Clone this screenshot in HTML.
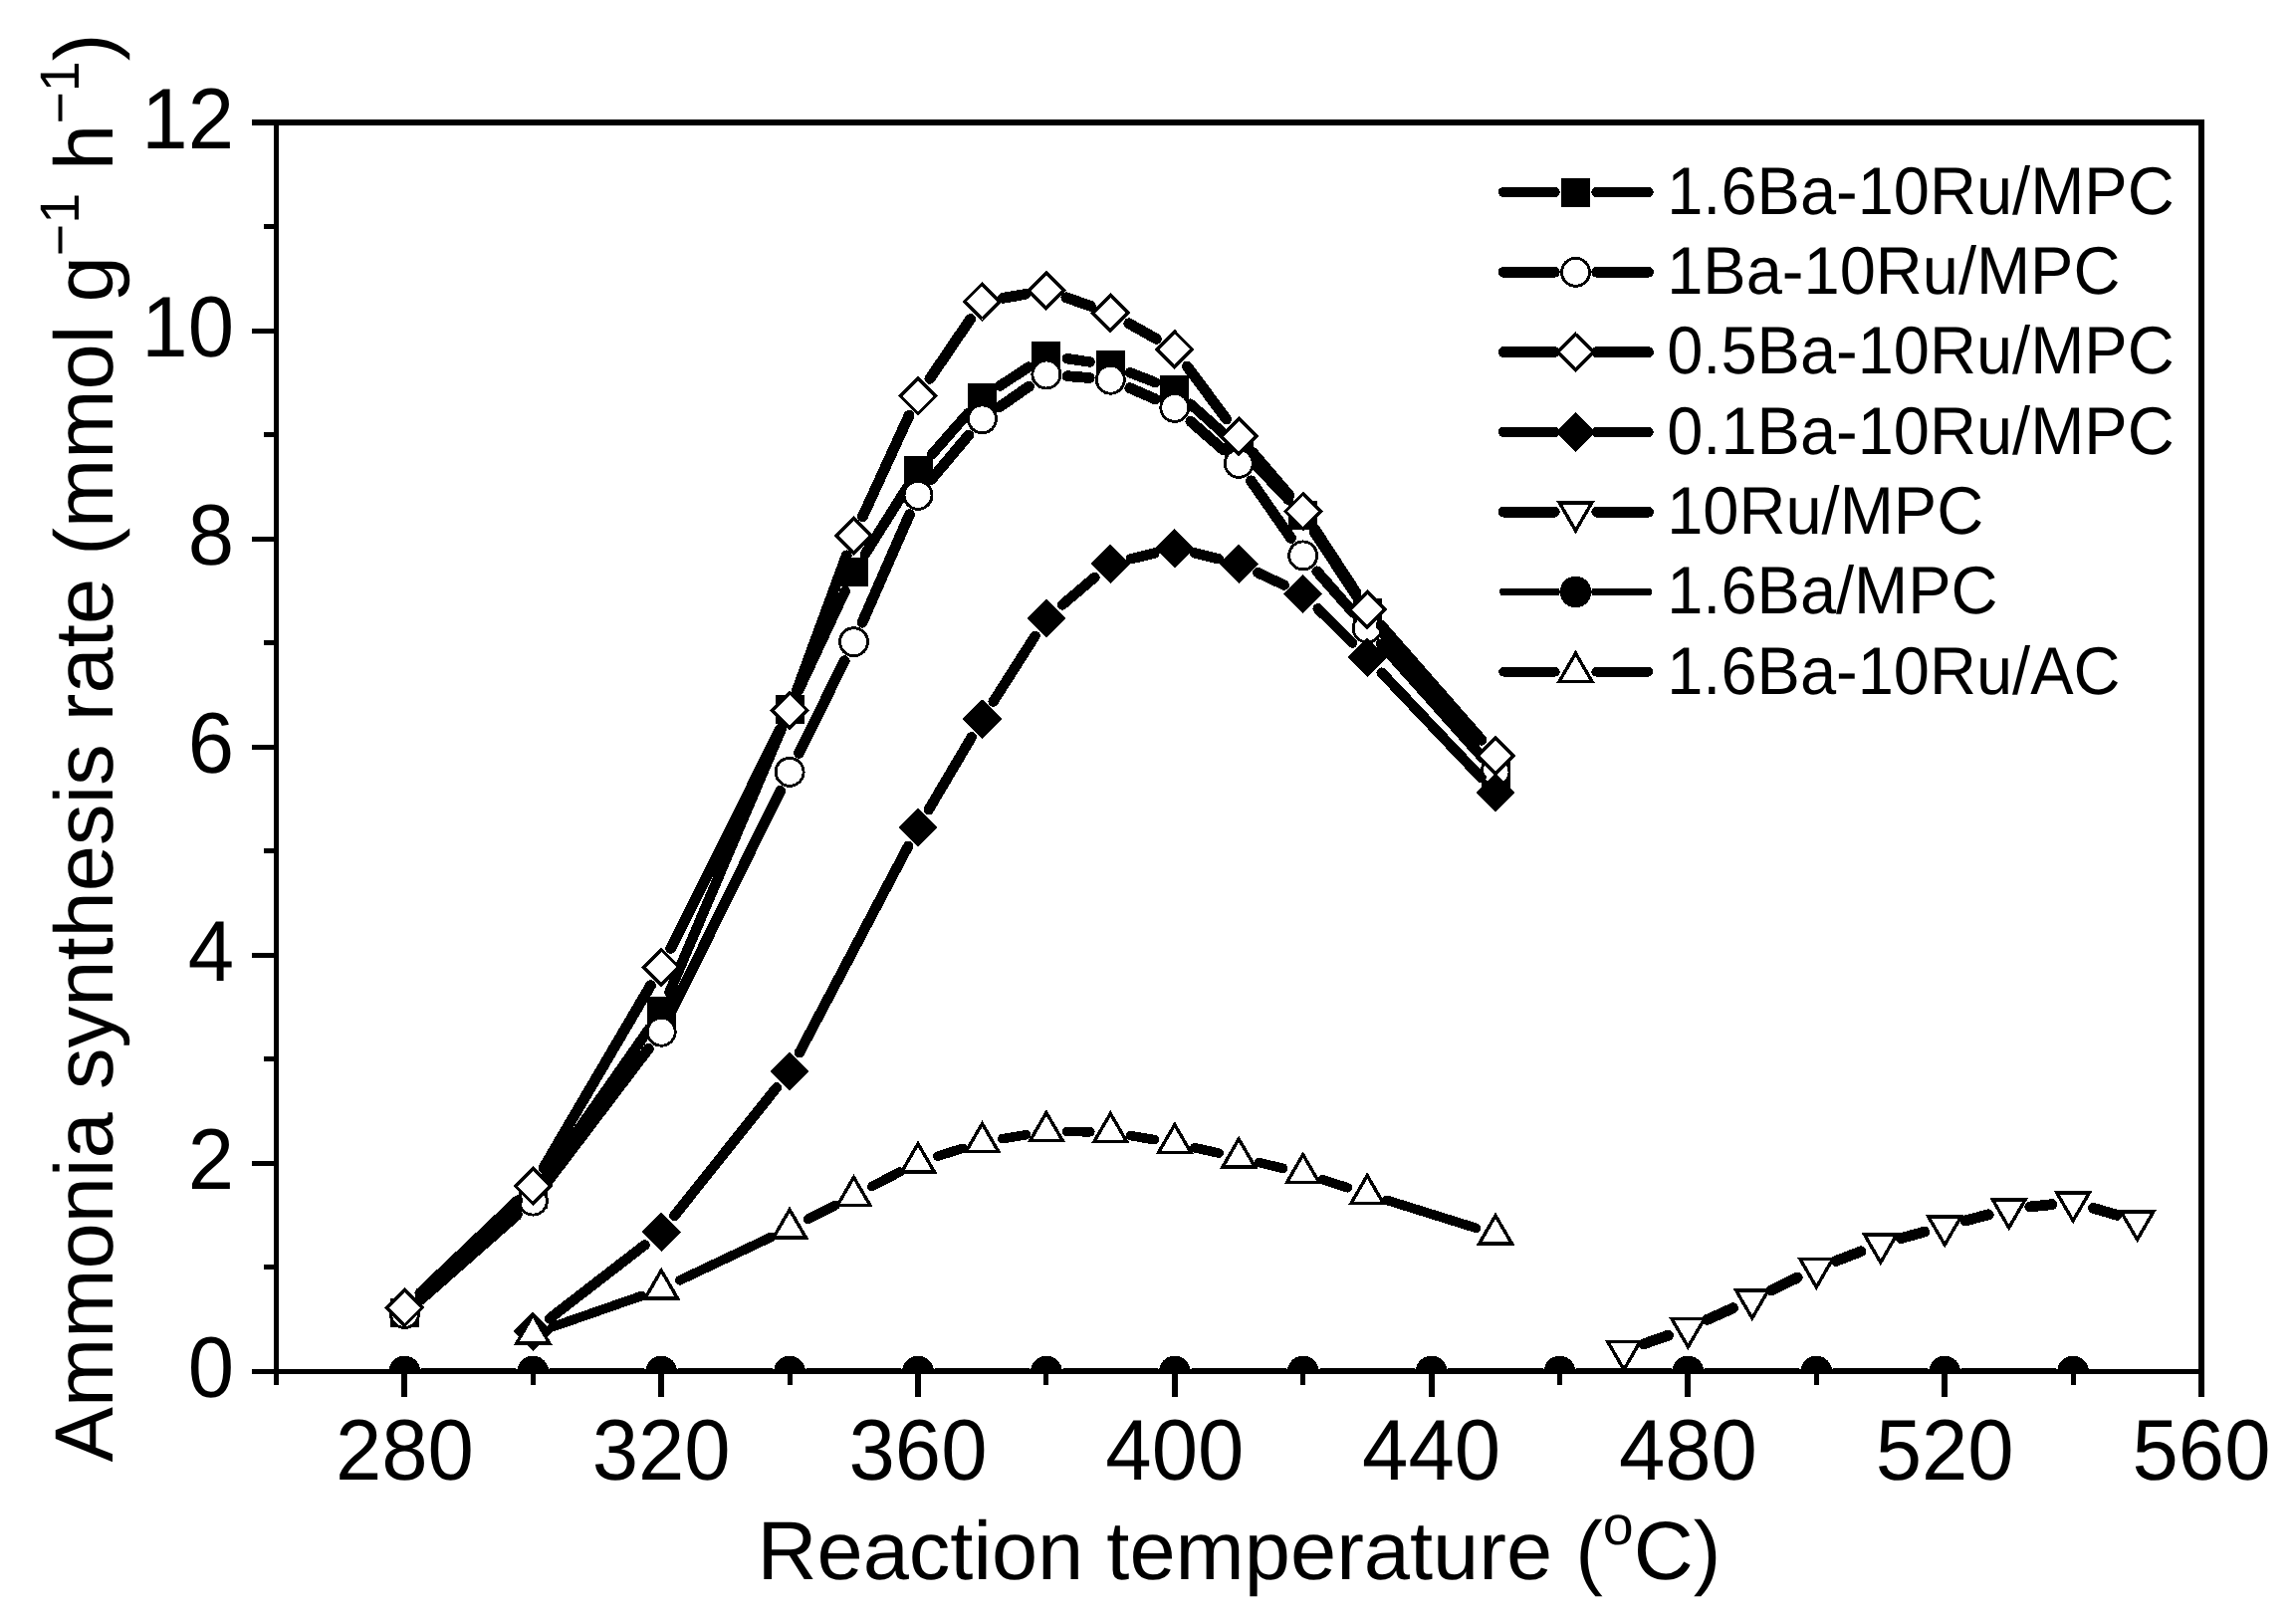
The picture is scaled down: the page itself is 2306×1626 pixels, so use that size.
<!DOCTYPE html>
<html><head><meta charset="utf-8"><title>Ammonia synthesis rate</title>
<style>
html,body{margin:0;padding:0;background:#fff;}
svg{display:block;}
text{font-family:"Liberation Sans",sans-serif;fill:#000;}
</style></head><body>
<svg width="2306" height="1626" viewBox="0 0 2306 1626" shape-rendering="crispEdges" text-rendering="geometricPrecision">
<rect width="2306" height="1626" fill="#fff"/>
<defs><clipPath id="plot"><rect x="277.5" y="123.0" width="1933.5" height="1254.5"/></clipPath></defs>
<g clip-path="url(#plot)">
<path d="M421.9 1304.2L519.8 1214.0M547.3 1182.6L652.2 1033.0M672.4 996.5L784.9 731.9M802.0 693.6L848.7 593.6M868.7 556.8L910.8 489.9M935.9 456.4L972.6 414.7M1004.1 387.6L1033.3 368.6M1071.7 360.2L1094.6 363.5M1134.9 374.2L1160.2 384.1M1195.5 405.7L1228.6 435.2M1258.7 464.4L1294.2 501.9M1320.2 534.7L1361.6 597.8M1386.2 631.8L1489.0 761.0" fill="none" stroke="#000" stroke-width="10.4" stroke-linecap="round"/>
<rect x="391.9" y="1303.9" width="29.0" height="29.0" fill="#000"/>
<rect x="520.8" y="1185.3" width="29.0" height="29.0" fill="#000"/>
<rect x="649.7" y="1001.3" width="29.0" height="29.0" fill="#000"/>
<rect x="778.6" y="698.1" width="29.0" height="29.0" fill="#000"/>
<rect x="843.0" y="560.1" width="29.0" height="29.0" fill="#000"/>
<rect x="907.5" y="457.7" width="29.0" height="29.0" fill="#000"/>
<rect x="972.0" y="384.5" width="29.0" height="29.0" fill="#000"/>
<rect x="1036.4" y="342.7" width="29.0" height="29.0" fill="#000"/>
<rect x="1100.8" y="352.1" width="29.0" height="29.0" fill="#000"/>
<rect x="1165.3" y="377.2" width="29.0" height="29.0" fill="#000"/>
<rect x="1229.8" y="434.7" width="29.0" height="29.0" fill="#000"/>
<rect x="1294.2" y="502.6" width="29.0" height="29.0" fill="#000"/>
<rect x="1358.7" y="600.9" width="29.0" height="29.0" fill="#000"/>
<rect x="1487.5" y="762.9" width="29.0" height="29.0" fill="#000"/>
<path d="M422.3 1305.5L519.4 1220.1M548.1 1189.2L651.4 1053.1M673.6 1017.2L783.7 794.3M802.5 756.3L848.2 663.7M866.0 625.2L913.5 516.7M935.7 481.1L972.8 437.1M1003.8 408.8L1033.5 388.1M1072.0 377.7L1094.2 379.5M1134.8 389.7L1160.4 400.9M1195.8 423.3L1228.2 451.5M1256.4 482.8L1296.6 540.5M1322.7 573.8L1359.1 615.2M1387.3 646.9L1487.9 759.5" fill="none" stroke="#000" stroke-width="10.8" stroke-linecap="round"/>
<circle cx="406.4" cy="1319.5" r="14.0" fill="#fff" stroke="#000" stroke-width="2.9"/>
<circle cx="535.3" cy="1206.1" r="14.0" fill="#fff" stroke="#000" stroke-width="2.9"/>
<circle cx="664.2" cy="1036.2" r="14.0" fill="#fff" stroke="#000" stroke-width="2.9"/>
<circle cx="793.1" cy="775.3" r="14.0" fill="#fff" stroke="#000" stroke-width="2.9"/>
<circle cx="857.5" cy="644.7" r="14.0" fill="#fff" stroke="#000" stroke-width="2.9"/>
<circle cx="922.0" cy="497.3" r="14.0" fill="#fff" stroke="#000" stroke-width="2.9"/>
<circle cx="986.5" cy="420.9" r="14.0" fill="#fff" stroke="#000" stroke-width="2.9"/>
<circle cx="1050.9" cy="376.0" r="14.0" fill="#fff" stroke="#000" stroke-width="2.9"/>
<circle cx="1115.3" cy="381.2" r="14.0" fill="#fff" stroke="#000" stroke-width="2.9"/>
<circle cx="1179.8" cy="409.4" r="14.0" fill="#fff" stroke="#000" stroke-width="2.9"/>
<circle cx="1244.2" cy="465.4" r="14.0" fill="#fff" stroke="#000" stroke-width="2.9"/>
<circle cx="1308.7" cy="557.9" r="14.0" fill="#fff" stroke="#000" stroke-width="2.9"/>
<circle cx="1373.2" cy="631.1" r="14.0" fill="#fff" stroke="#000" stroke-width="2.9"/>
<circle cx="1502.0" cy="775.3" r="14.0" fill="#fff" stroke="#000" stroke-width="2.9"/>
<path d="M421.8 1298.8L519.9 1205.7M546.0 1172.8L653.5 989.6M673.7 952.4L783.6 732.3M800.4 693.4L850.2 557.9M866.4 518.8L913.1 417.2M933.9 380.4L974.6 320.4M1007.3 299.3L1030.0 295.4M1070.9 298.8L1095.3 307.3M1133.8 324.8L1161.4 340.4M1192.4 368.0L1231.7 421.1M1258.0 454.3L1294.9 497.4M1320.3 531.2L1361.6 594.5M1387.1 628.2L1488.1 743.2" fill="none" stroke="#000" stroke-width="10.8" stroke-linecap="round"/>
<path d="M406.4 1295.7L424.1 1313.4L406.4 1331.1L388.7 1313.4Z" fill="#fff" stroke="#000" stroke-width="3.4"/>
<path d="M535.3 1173.4L553.0 1191.1L535.3 1208.8L517.6 1191.1Z" fill="#fff" stroke="#000" stroke-width="3.4"/>
<path d="M664.2 953.7L681.9 971.4L664.2 989.1L646.5 971.4Z" fill="#fff" stroke="#000" stroke-width="3.4"/>
<path d="M793.1 695.6L810.8 713.3L793.1 731.0L775.4 713.3Z" fill="#fff" stroke="#000" stroke-width="3.4"/>
<path d="M857.5 520.3L875.2 538.0L857.5 555.7L839.8 538.0Z" fill="#fff" stroke="#000" stroke-width="3.4"/>
<path d="M922.0 380.2L939.7 397.9L922.0 415.6L904.3 397.9Z" fill="#fff" stroke="#000" stroke-width="3.4"/>
<path d="M986.5 285.1L1004.2 302.8L986.5 320.5L968.8 302.8Z" fill="#fff" stroke="#000" stroke-width="3.4"/>
<path d="M1050.9 274.1L1068.6 291.8L1050.9 309.5L1033.2 291.8Z" fill="#fff" stroke="#000" stroke-width="3.4"/>
<path d="M1115.3 296.6L1133.0 314.3L1115.3 332.0L1097.6 314.3Z" fill="#fff" stroke="#000" stroke-width="3.4"/>
<path d="M1179.8 333.2L1197.5 350.9L1179.8 368.6L1162.1 350.9Z" fill="#fff" stroke="#000" stroke-width="3.4"/>
<path d="M1244.2 420.5L1262.0 438.2L1244.2 455.9L1226.5 438.2Z" fill="#fff" stroke="#000" stroke-width="3.4"/>
<path d="M1308.7 495.8L1326.4 513.5L1308.7 531.2L1291.0 513.5Z" fill="#fff" stroke="#000" stroke-width="3.4"/>
<path d="M1373.2 594.6L1390.9 612.3L1373.2 630.0L1355.5 612.3Z" fill="#fff" stroke="#000" stroke-width="3.4"/>
<path d="M1502.0 741.4L1519.8 759.1L1502.0 776.8L1484.3 759.1Z" fill="#fff" stroke="#000" stroke-width="3.4"/>
<path d="M551.9 1324.4L647.6 1250.3M677.3 1221.0L780.0 1092.3M802.9 1057.3L912.2 849.8M932.7 813.2L975.8 740.3M997.7 704.5L1039.6 638.8M1066.9 607.5L1099.4 579.9M1135.8 561.3L1159.4 555.5M1200.2 555.5L1223.8 561.3M1263.3 575.2L1289.7 587.6M1323.6 611.3L1358.2 645.6M1387.6 675.6L1487.6 780.9" fill="none" stroke="#000" stroke-width="10.4" stroke-linecap="round"/>
<path d="M535.3 1317.6L555.0 1337.3L535.3 1357.0L515.6 1337.3Z" fill="#000"/>
<path d="M664.2 1217.7L683.9 1237.4L664.2 1257.1L644.5 1237.4Z" fill="#000"/>
<path d="M793.1 1056.2L812.8 1075.9L793.1 1095.6L773.4 1075.9Z" fill="#000"/>
<path d="M922.0 811.6L941.7 831.3L922.0 851.0L902.3 831.3Z" fill="#000"/>
<path d="M986.5 702.5L1006.2 722.2L986.5 741.9L966.8 722.2Z" fill="#000"/>
<path d="M1050.9 601.4L1070.6 621.1L1050.9 640.8L1031.2 621.1Z" fill="#000"/>
<path d="M1115.3 546.6L1135.0 566.3L1115.3 586.0L1095.6 566.3Z" fill="#000"/>
<path d="M1179.8 530.9L1199.5 550.6L1179.8 570.3L1160.1 550.6Z" fill="#000"/>
<path d="M1244.2 546.6L1264.0 566.3L1244.2 586.0L1224.5 566.3Z" fill="#000"/>
<path d="M1308.7 576.9L1328.4 596.6L1308.7 616.3L1289.0 596.6Z" fill="#000"/>
<path d="M1373.2 640.6L1392.9 660.3L1373.2 680.0L1353.5 660.3Z" fill="#000"/>
<path d="M1502.0 776.4L1521.8 796.1L1502.0 815.8L1482.3 796.1Z" fill="#000"/>
<path d="M1650.9 1349.8L1675.4 1341.2M1714.7 1325.4L1740.5 1313.8M1778.9 1295.9L1805.2 1283.2M1844.1 1266.4L1869.0 1256.8M1909.2 1243.6L1932.8 1237.1M1973.7 1226.0L1997.2 1219.8M2038.7 1212.0L2061.0 1209.6M2102.4 1213.3L2126.2 1220.3" fill="none" stroke="#000" stroke-width="10.8" stroke-linecap="round"/>
<path d="M1631.0 1375.6L1647.2 1347.5L1614.7 1347.5Z" fill="#fff" stroke="#000" stroke-width="3.4"/>
<path d="M1695.4 1352.8L1711.7 1324.7L1679.1 1324.7Z" fill="#fff" stroke="#000" stroke-width="3.4"/>
<path d="M1759.8 1323.9L1776.1 1295.8L1743.5 1295.8Z" fill="#fff" stroke="#000" stroke-width="3.4"/>
<path d="M1824.3 1292.7L1840.6 1264.6L1808.0 1264.6Z" fill="#fff" stroke="#000" stroke-width="3.4"/>
<path d="M1888.8 1267.9L1905.0 1239.8L1872.5 1239.8Z" fill="#fff" stroke="#000" stroke-width="3.4"/>
<path d="M1953.2 1250.2L1969.5 1222.1L1936.9 1222.1Z" fill="#fff" stroke="#000" stroke-width="3.4"/>
<path d="M2017.7 1233.0L2034.0 1204.9L2001.4 1204.9Z" fill="#fff" stroke="#000" stroke-width="3.4"/>
<path d="M2082.1 1226.0L2098.4 1197.9L2065.8 1197.9Z" fill="#fff" stroke="#000" stroke-width="3.4"/>
<path d="M2146.6 1244.9L2162.9 1216.8L2130.2 1216.8Z" fill="#fff" stroke="#000" stroke-width="3.4"/>
<path d="M426.1 1377.5L515.6 1377.5M555.0 1377.5L644.5 1377.5M683.9 1377.5L773.4 1377.5M812.8 1377.5L902.3 1377.5M941.7 1377.5L1031.2 1377.5M1070.6 1377.5L1160.1 1377.5M1199.5 1377.5L1289.0 1377.5M1328.4 1377.5L1417.9 1377.5M1457.3 1377.5L1546.8 1377.5M1586.2 1377.5L1675.7 1377.5M1715.1 1377.5L1804.6 1377.5M1844.0 1377.5L1933.5 1377.5M1972.9 1377.5L2062.4 1377.5" fill="none" stroke="#000" stroke-width="7.8" stroke-linecap="round"/>
<circle cx="406.4" cy="1377.5" r="15.8" fill="#000"/>
<circle cx="535.3" cy="1377.5" r="15.8" fill="#000"/>
<circle cx="664.2" cy="1377.5" r="15.8" fill="#000"/>
<circle cx="793.1" cy="1377.5" r="15.8" fill="#000"/>
<circle cx="922.0" cy="1377.5" r="15.8" fill="#000"/>
<circle cx="1050.9" cy="1377.5" r="15.8" fill="#000"/>
<circle cx="1179.8" cy="1377.5" r="15.8" fill="#000"/>
<circle cx="1308.7" cy="1377.5" r="15.8" fill="#000"/>
<circle cx="1437.6" cy="1377.5" r="15.8" fill="#000"/>
<circle cx="1566.5" cy="1377.5" r="15.8" fill="#000"/>
<circle cx="1695.4" cy="1377.5" r="15.8" fill="#000"/>
<circle cx="1824.3" cy="1377.5" r="15.8" fill="#000"/>
<circle cx="1953.2" cy="1377.5" r="15.8" fill="#000"/>
<circle cx="2082.1" cy="1377.5" r="15.8" fill="#000"/>
<path d="M554.8 1332.7L644.7 1301.4M682.8 1285.8L774.5 1242.4M811.5 1224.3L839.2 1210.3M875.8 1191.5L903.7 1176.9M941.7 1161.2L966.8 1153.3M1006.8 1143.7L1030.6 1139.7M1071.5 1136.5L1094.8 1136.8M1135.6 1140.6L1159.5 1144.7M1199.9 1152.7L1224.1 1158.1M1264.3 1167.5L1288.7 1173.4M1328.3 1184.7L1353.5 1192.8M1392.8 1205.3L1482.4 1233.3" fill="none" stroke="#000" stroke-width="9.6" stroke-linecap="round"/>
<path d="M535.3 1320.7L551.6 1348.8L519.0 1348.8Z" fill="#fff" stroke="#000" stroke-width="3.4"/>
<path d="M664.2 1275.9L680.5 1304.0L647.9 1304.0Z" fill="#fff" stroke="#000" stroke-width="3.4"/>
<path d="M793.1 1214.8L809.4 1242.9L776.8 1242.9Z" fill="#fff" stroke="#000" stroke-width="3.4"/>
<path d="M857.5 1182.3L873.8 1210.4L841.2 1210.4Z" fill="#fff" stroke="#000" stroke-width="3.4"/>
<path d="M922.0 1148.7L938.3 1176.8L905.7 1176.8Z" fill="#fff" stroke="#000" stroke-width="3.4"/>
<path d="M986.5 1128.5L1002.8 1156.6L970.2 1156.6Z" fill="#fff" stroke="#000" stroke-width="3.4"/>
<path d="M1050.9 1117.5L1067.2 1145.6L1034.6 1145.6Z" fill="#fff" stroke="#000" stroke-width="3.4"/>
<path d="M1115.3 1118.4L1131.6 1146.5L1099.0 1146.5Z" fill="#fff" stroke="#000" stroke-width="3.4"/>
<path d="M1179.8 1129.5L1196.1 1157.6L1163.5 1157.6Z" fill="#fff" stroke="#000" stroke-width="3.4"/>
<path d="M1244.2 1143.9L1260.5 1172.0L1228.0 1172.0Z" fill="#fff" stroke="#000" stroke-width="3.4"/>
<path d="M1308.7 1159.6L1325.0 1187.7L1292.4 1187.7Z" fill="#fff" stroke="#000" stroke-width="3.4"/>
<path d="M1373.2 1180.5L1389.5 1208.6L1356.9 1208.6Z" fill="#fff" stroke="#000" stroke-width="3.4"/>
<path d="M1502.0 1220.7L1518.3 1248.8L1485.8 1248.8Z" fill="#fff" stroke="#000" stroke-width="3.4"/>
</g>
<g fill="#000"><rect x="253" y="120" width="1961" height="6"/>
<rect x="253" y="1375" width="1961" height="5"/>
<rect x="275" y="120" width="5" height="1271"/>
<rect x="2208" y="120" width="6" height="1283"/>
<rect x="265" y="1270" width="12" height="5"/>
<rect x="253" y="1166" width="24" height="5"/>
<rect x="265" y="1061" width="12" height="5"/>
<rect x="253" y="957" width="24" height="5"/>
<rect x="265" y="852" width="12" height="5"/>
<rect x="253" y="748" width="24" height="5"/>
<rect x="265" y="643" width="12" height="5"/>
<rect x="253" y="539" width="24" height="5"/>
<rect x="265" y="434" width="12" height="5"/>
<rect x="253" y="330" width="24" height="5"/>
<rect x="265" y="225" width="12" height="5"/>
<rect x="403" y="1378" width="6" height="25"/>
<rect x="533" y="1378" width="5" height="13"/>
<rect x="661" y="1378" width="6" height="25"/>
<rect x="791" y="1378" width="5" height="13"/>
<rect x="919" y="1378" width="6" height="25"/>
<rect x="1048" y="1378" width="5" height="13"/>
<rect x="1177" y="1378" width="6" height="25"/>
<rect x="1306" y="1378" width="5" height="13"/>
<rect x="1435" y="1378" width="6" height="25"/>
<rect x="1564" y="1378" width="5" height="13"/>
<rect x="1692" y="1378" width="6" height="25"/>
<rect x="1822" y="1378" width="5" height="13"/>
<rect x="1950" y="1378" width="6" height="25"/>
<rect x="2080" y="1378" width="5" height="13"/></g>
<text transform="translate(406.4 1485.5) scale(1 1.04)" font-size="83.3" text-anchor="middle">280</text>
<text transform="translate(664.2 1485.5) scale(1 1.04)" font-size="83.3" text-anchor="middle">320</text>
<text transform="translate(922.0 1485.5) scale(1 1.04)" font-size="83.3" text-anchor="middle">360</text>
<text transform="translate(1179.8 1485.5) scale(1 1.04)" font-size="83.3" text-anchor="middle">400</text>
<text transform="translate(1437.6 1485.5) scale(1 1.04)" font-size="83.3" text-anchor="middle">440</text>
<text transform="translate(1695.4 1485.5) scale(1 1.04)" font-size="83.3" text-anchor="middle">480</text>
<text transform="translate(1953.2 1485.5) scale(1 1.04)" font-size="83.3" text-anchor="middle">520</text>
<text transform="translate(2211.0 1485.5) scale(1 1.04)" font-size="83.3" text-anchor="middle">560</text>
<text transform="translate(235 1403.3) scale(1 1.04)" font-size="83.3" text-anchor="end">0</text>
<text transform="translate(235 1194.2) scale(1 1.04)" font-size="83.3" text-anchor="end">2</text>
<text transform="translate(235 985.1) scale(1 1.04)" font-size="83.3" text-anchor="end">4</text>
<text transform="translate(235 776.0) scale(1 1.04)" font-size="83.3" text-anchor="end">6</text>
<text transform="translate(235 567.0) scale(1 1.04)" font-size="83.3" text-anchor="end">8</text>
<text transform="translate(235 357.9) scale(1 1.04)" font-size="83.3" text-anchor="end">10</text>
<text transform="translate(235 148.8) scale(1 1.04)" font-size="83.3" text-anchor="end">12</text>
<text x="760.5" y="1585.8" font-size="83.05">Reaction temperature (<tspan font-size="55.5" dy="-35">o</tspan><tspan dy="35">C)</tspan></text>
<text transform="translate(113 1468.5) rotate(-90)" font-size="83.2">Ammonia synthesis rate (mmol g<tspan font-size="55.5" dy="-34">−1</tspan><tspan dy="34"> h</tspan><tspan font-size="55.5" dy="-34">−1</tspan><tspan dy="34">)</tspan></text>
<path d="M1510 193.0L1561.5 193.0M1603.5 193.0L1655.5 193.0" stroke="#000" stroke-width="10.4" stroke-linecap="round" fill="none"/>
<rect x="1568.0" y="178.5" width="29.0" height="29.0" fill="#000"/>
<text transform="translate(1674.2 214.8) scale(1 1.04)" font-size="65">1.6Ba-10Ru/MPC</text>
<path d="M1510 273.3L1561.3 273.3M1603.7 273.3L1655.5 273.3" stroke="#000" stroke-width="10.8" stroke-linecap="round" fill="none"/>
<circle cx="1582.5" cy="273.3" r="14.0" fill="#fff" stroke="#000" stroke-width="2.9"/>
<text transform="translate(1674.2 295.1) scale(1 1.04)" font-size="65">1Ba-10Ru/MPC</text>
<path d="M1510 353.6L1561.3 353.6M1603.7 353.6L1655.5 353.6" stroke="#000" stroke-width="10.8" stroke-linecap="round" fill="none"/>
<path d="M1582.5 335.9L1600.2 353.6L1582.5 371.3L1564.8 353.6Z" fill="#fff" stroke="#000" stroke-width="3.4"/>
<text transform="translate(1674.2 375.4) scale(1 1.04)" font-size="65">0.5Ba-10Ru/MPC</text>
<path d="M1510 433.9L1561.5 433.9M1603.5 433.9L1655.5 433.9" stroke="#000" stroke-width="10.4" stroke-linecap="round" fill="none"/>
<path d="M1582.5 414.2L1602.2 433.9L1582.5 453.6L1562.8 433.9Z" fill="#000"/>
<text transform="translate(1674.2 455.7) scale(1 1.04)" font-size="65">0.1Ba-10Ru/MPC</text>
<path d="M1510 514.2L1561.3 514.2M1603.7 514.2L1655.5 514.2" stroke="#000" stroke-width="10.8" stroke-linecap="round" fill="none"/>
<path d="M1582.5 532.9L1598.8 504.8L1566.2 504.8Z" fill="#fff" stroke="#000" stroke-width="3.4"/>
<text transform="translate(1674.2 536.0) scale(1 1.04)" font-size="65">10Ru/MPC</text>
<path d="M1510 594.5L1562.8 594.5M1602.2 594.5L1655.5 594.5" stroke="#000" stroke-width="7.8" stroke-linecap="round" fill="none"/>
<circle cx="1582.5" cy="594.5" r="15.8" fill="#000"/>
<text transform="translate(1674.2 616.3) scale(1 1.04)" font-size="65">1.6Ba/MPC</text>
<path d="M1510 674.8L1561.9 674.8M1603.1 674.8L1655.5 674.8" stroke="#000" stroke-width="9.6" stroke-linecap="round" fill="none"/>
<path d="M1582.5 656.1L1598.8 684.2L1566.2 684.2Z" fill="#fff" stroke="#000" stroke-width="3.4"/>
<text transform="translate(1674.2 696.6) scale(1 1.04)" font-size="65">1.6Ba-10Ru/AC</text>
</svg></body></html>
